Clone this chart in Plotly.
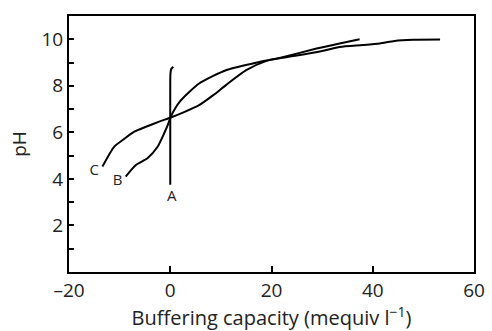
import plotly.graph_objects as go

# Curve A
a_x = [0, 0, 0, 0.05, 0.2, 0.6]
a_y = [3.75, 6.6, 8.2, 8.55, 8.72, 8.82]

# Curve B
b_x = [-8.8, -6.8, -4.5, -2.5, -1.2, -0.5, 0.1, 2.0, 5.7, 11.0, 16.3, 20.1, 25.0, 30.0, 33.5, 38.0, 41.4, 44.3, 48.0, 53.3]
b_y = [4.10, 4.60, 4.89, 5.38, 5.96, 6.31, 6.67, 7.35, 8.10, 8.67, 8.96, 9.13, 9.30, 9.50, 9.67, 9.75, 9.82, 9.93, 9.98, 9.99]

# Curve C
c_x = [-13.4, -11.1, -9.4, -7.1, -4.8, -2.2, 0.1, 2.5, 5.7, 8.5, 11.0, 15.0, 19.0, 22.2, 28.9, 33.0, 37.4]
c_y = [4.53, 5.38, 5.67, 6.03, 6.24, 6.46, 6.64, 6.85, 7.17, 7.60, 8.03, 8.67, 9.07, 9.23, 9.60, 9.80, 10.0]

labels = ["A", "B", "C"]
label_x = [0.3, -10.4, -15.0]
label_y = [3.21, 3.91, 4.35]

x_ticks = [-20, 0, 20, 40, 60]
x_ticktext = ["–20", "0", "20", "40", "60"]
y_ticks = [1, 2, 3, 4, 5, 6, 7, 8, 9, 10]
y_ticktext = ["", "2", "", "4", "", "6", "", "8", "", "10"]

fig = go.Figure()
for xs, ys in [(a_x, a_y), (b_x, b_y), (c_x, c_y)]:
    fig.add_trace(go.Scatter(x=xs, y=ys, mode="lines",
                             line=dict(color="black", width=2, shape="spline", smoothing=0.6),
                             showlegend=False, hoverinfo="skip"))

fig.add_trace(go.Scatter(x=label_x, y=label_y, mode="text", text=labels,
                         textfont=dict(family="Open Sans", size=15, color="#222"),
                         showlegend=False, hoverinfo="skip"))

font = dict(family="Open Sans", size=19, color="#222")
title_font = dict(family="Open Sans", size=20, color="#222")
fig.update_layout(
    width=492, height=331,
    margin=dict(l=69, r=18, t=16, b=59, autoexpand=False),
    plot_bgcolor="white", paper_bgcolor="white",
    font=font,
    xaxis=dict(range=[-20, 60], tickvals=x_ticks, ticktext=x_ticktext, ticks="inside", ticklen=6, tickwidth=2,
               tickcolor="black", showline=True, linecolor="black", linewidth=2, mirror=True,
               showgrid=False, zeroline=False, automargin=False,
               title=dict(text="Buffering capacity (mequiv l<sup>−1</sup>)", standoff=6, font=title_font),
               tickfont=font),
    yaxis=dict(range=[0, 11], tickvals=y_ticks, ticktext=y_ticktext, ticks="inside", ticklen=5, tickwidth=2,
               tickcolor="black", showline=True, linecolor="black", linewidth=2, mirror=True,
               showgrid=False, zeroline=False, automargin=False,
               title=dict(text="pH", standoff=10, font=font), tickfont=font),
)
fig.write_html("out.html", config={"displayModeBar": False},
               post_script="document.body.style.margin='0';document.body.style.overflow='hidden';")
